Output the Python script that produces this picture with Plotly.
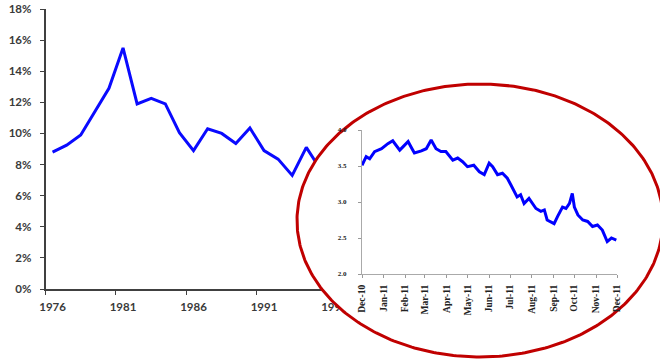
import numpy as np
import plotly.graph_objects as go

# ---------------- data ----------------
main_years = list(range(1976, 1996))
main_values = [8.8, 9.25, 9.9, 11.4, 12.9, 15.5, 11.9, 12.25, 11.9, 10.05,
               8.9, 10.3, 10.0, 9.35, 10.35, 8.9, 8.35, 7.3, 9.1, 7.7]
main_tick_years = [1976, 1981, 1986, 1991, 1996, 2001, 2006, 2011]
main_y_ticks = [0, 2, 4, 6, 8, 10, 12, 14, 16, 18]

inset_dates = ["2010-12-01", "2010-12-07", "2010-12-12", "2010-12-19", "2010-12-29",
               "2011-01-07", "2011-01-14", "2011-01-24", "2011-01-30", "2011-02-05",
               "2011-02-10", "2011-02-14", "2011-02-24", "2011-03-03", "2011-03-10",
               "2011-03-17", "2011-03-24", "2011-03-31", "2011-04-10", "2011-04-17",
               "2011-04-24", "2011-05-01", "2011-05-10", "2011-05-18", "2011-05-25",
               "2011-06-01", "2011-06-06", "2011-06-13", "2011-06-20", "2011-06-27",
               "2011-07-02", "2011-07-07", "2011-07-11", "2011-07-16", "2011-07-21",
               "2011-07-28", "2011-08-07", "2011-08-14", "2011-08-19", "2011-08-23",
               "2011-09-02", "2011-09-07", "2011-09-14", "2011-09-19", "2011-09-24",
               "2011-09-28", "2011-10-01", "2011-10-06", "2011-10-13", "2011-10-20",
               "2011-10-27", "2011-11-03", "2011-11-10", "2011-11-17", "2011-11-23",
               "2011-11-30"]
inset_values = [3.51, 3.63, 3.60, 3.70, 3.74,
                3.81, 3.85, 3.72, 3.78, 3.84,
                3.75, 3.68, 3.71, 3.74, 3.86,
                3.74, 3.70, 3.70, 3.58, 3.61,
                3.56, 3.49, 3.51, 3.42, 3.38,
                3.54, 3.49, 3.38, 3.40, 3.33,
                3.24, 3.14, 3.07, 3.10, 2.98,
                3.05, 2.91, 2.87, 2.89, 2.75,
                2.70, 2.80, 2.93, 2.91, 2.98,
                3.12, 2.93, 2.82, 2.75, 2.73,
                2.66, 2.68, 2.61, 2.45, 2.50,
                2.47]
inset_y_ticks = [2.0, 2.5, 3.0, 3.5, 4.0]

W, H = 660, 361

def px_x(p):
    return p / W

def px_y(p):
    return (H - p) / H

fig = go.Figure()

# main chart (xy)
fig.add_trace(go.Scatter(x=main_years, y=main_values, mode="lines",
                         line=dict(color="#0a0aff", width=3), xaxis="x", yaxis="y",
                         hoverinfo="skip"))

# ellipse highlight (x2y2, pixel coordinates)
t = np.linspace(0, 2 * np.pi, 400)
cx, cy, a, b = 480, 220.5, 183, 136.5
fig.add_trace(go.Scatter(x=cx + a * np.cos(t), y=cy + b * np.sin(t), mode="lines",
                         fill="toself", fillcolor="white",
                         line=dict(color="#c00000", width=3), xaxis="x2", yaxis="y2",
                         hoverinfo="skip"))

# inset chart (x3y3)
fig.add_trace(go.Scatter(x=inset_dates, y=inset_values, mode="lines",
                         line=dict(color="#0000ff", width=3), xaxis="x3", yaxis="y3",
                         hoverinfo="skip"))

axis_col = "#404040"
main_font = dict(family="Lato, Open Sans, sans-serif", size=11.5, color="#3a3a3a", weight="bold")
serif_font = dict(family="Liberation Serif, serif", size=9.5, color="#222222", weight="bold")

fig.update_layout(
    width=W, height=H, margin=dict(l=0, r=0, t=0, b=0, pad=0, autoexpand=False),
    paper_bgcolor="white", plot_bgcolor="rgba(0,0,0,0)", showlegend=False,
    xaxis=dict(domain=[px_x(45.5), px_x(553)], range=[1975.5, 2011.5], anchor="y",
               automargin=False,
               tickmode="array", tickvals=main_tick_years,
               ticktext=[str(v) for v in main_tick_years],
               ticks="", showline=True, linecolor=axis_col, linewidth=1.5,
               showgrid=False, zeroline=False, tickfont=main_font,
               ticklabelstandoff=6,
               minor=dict(tickmode="array", tickvals=[v - 0.5 for v in main_tick_years],
                          ticks="outside", ticklen=4, tickcolor=axis_col, tickwidth=1,
                          showgrid=False)),
    yaxis=dict(domain=[px_y(289), px_y(9)], range=[0, 18], anchor="x",
               automargin=False,
               tickmode="array", tickvals=main_y_ticks,
               ticktext=[f"{v}%" for v in main_y_ticks],
               ticks="outside", ticklen=4, tickcolor=axis_col, tickwidth=1,
               showline=True, linecolor=axis_col, linewidth=1.5,
               showgrid=False, zeroline=False, tickfont=main_font,
               ticklabelstandoff=6),
    xaxis2=dict(domain=[0, 1], range=[0, W], anchor="y2", visible=False, fixedrange=True,
                automargin=False),
    yaxis2=dict(domain=[0, 1], range=[H, 0], anchor="x2", visible=False, fixedrange=True,
                automargin=False),
    xaxis3=dict(domain=[px_x(362), px_x(617)], type="date",
                range=["2010-12-01", "2011-12-01"], anchor="y3", automargin=False,
                tick0="2010-12-01", dtick="M1", tickformat="%b-%y", tickangle=-90,
                ticks="outside", ticklen=3, tickcolor="#999999",
                showline=True, linecolor="#aaaaaa", linewidth=1,
                showgrid=False, zeroline=False, tickfont=serif_font,
                ticklabelstandoff=3),
    yaxis3=dict(domain=[px_y(274), px_y(130)], range=[2, 4], anchor="x3",
                automargin=False,
                tickmode="array", tickvals=inset_y_ticks,
                ticktext=[f"{v:.1f}" for v in inset_y_ticks],
                ticks="outside", ticklen=3, tickcolor="#999999",
                showline=True, linecolor="#aaaaaa", linewidth=1,
                showgrid=False, zeroline=False,
                tickfont=dict(family="Liberation Serif, serif", size=7, color="#222222",
                              weight="bold"),
                ticklabelstandoff=10),
)

fig.write_html("out.html")
